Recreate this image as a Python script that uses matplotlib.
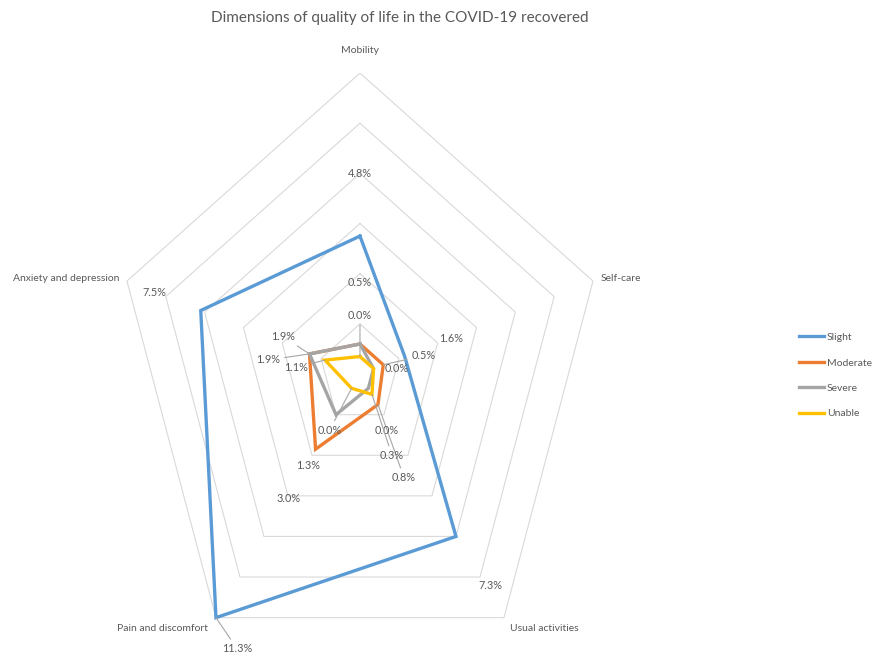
import numpy as np
import matplotlib
matplotlib.use("Agg")
import matplotlib.pyplot as plt
from matplotlib.lines import Line2D

plt.rcParams['font.family'] = ['Lato', 'DejaVu Sans']

title = "Dimensions of quality of life in the COVID-19 recovered"
categories = ["Mobility", "Self-care", "Usual activities", "Pain and discomfort", "Anxiety and depression"]
series_names = ["Slight", "Moderate", "Severe", "Unable"]
slight = [4.8, 1.6, 7.3, 11.3, 7.5]
moderate = [0.5, 0.5, 0.8, 3.0, 1.9]
severe = [0.5, 0.0, 0.0, 1.3, 1.9]
unable = [0.0, 0.0, 0.3, 0.0, 1.1]
values = [slight, moderate, severe, unable]

# value axis as set in the original sheet
vmin, vmax, step = -0.7, 11.3, 2.0

colors = ["#5B9BD5", "#ED7D31", "#A5A5A5", "#FFC000"]
ring_color = "#D9D9D9"
text_color = "#595959"

# label offsets in pixels (dx, dy, leader line); None = hidden under another label
label_pos = [
    [(0, 63, False), (47, 18, False), (34, -49, False), (21, -31, True), (-46, 18, False)],
    [(0, 61, False), (40, 9, True), (26, -73, True), (-27, -49, False), (-26, 17, True)],
    [None, (23, 0, False), (18, -42, False), (-28, -51, False), (-41, -6, True)],
    [(0, 41, True), None, (20, -61, True), (-22, -42, True), (-29, -7, True)],
]
cat_pos = [(0, 23, "center"), (8, 3, "left"), (6, -11, "left"), (-8, -11, "right"), (-8, 3, "right")]

n = len(categories)
theta = np.arange(n) * 2 * np.pi / n


def to_xy(vals):
    r = (np.asarray(vals, dtype=float) - vmin) / (vmax - vmin)
    return r * np.sin(theta), r * np.cos(theta)


fig = plt.figure(figsize=(8.75, 6.59), dpi=100)
ax = fig.add_axes([0.0754, 0.0212, 0.672, 0.868])
ax.set_xlim(-1.2, 1.2)
ax.set_ylim(-0.9, 1.0)
ax.axis("off")

# gridline rings
for lev in np.arange(vmin + step, vmax + 1e-9, step):
    rx, ry = to_xy([lev] * n)
    ax.plot(np.append(rx, rx[0]), np.append(ry, ry[0]), color=ring_color, lw=0.8, zorder=1)

# series
for name, vals, c in zip(series_names, values, colors):
    x, y = to_xy(vals)
    ax.plot(np.append(x, x[0]), np.append(y, y[0]), color=c, lw=2.4, zorder=3,
            solid_joinstyle="miter", label=name)

# data labels
for vals, offs in zip(values, label_pos):
    x, y = to_xy(vals)
    for i, o in enumerate(offs):
        if o is None:
            continue
        dx, dy, lead = o
        ap = None
        if lead:
            ap = dict(arrowstyle="-", color="#A6A6A6", lw=0.8, shrinkA=1, shrinkB=0)
        ax.annotate("%.1f%%" % vals[i], (x[i], y[i]), xytext=(dx, dy),
                    textcoords="offset pixels", ha="center", va="center",
                    fontsize=7.8, color=text_color, arrowprops=ap, zorder=5)

# category labels at the outer ring
ox, oy = to_xy([vmax] * n)
for i, cat in enumerate(categories):
    dx, dy, ha = cat_pos[i]
    ax.annotate(cat, (ox[i], oy[i]), xytext=(dx, dy), textcoords="offset pixels",
                ha=ha, va="center", fontsize=7.5, color=text_color)

fig.text(0.457, 0.972, title, ha="center", va="center", fontsize=11, color=text_color)

handles = [Line2D([], [], color=c, lw=2.4) for c in colors]
fig.legend(handles, series_names, loc="center left", bbox_to_anchor=(0.902, 0.43),
           frameon=False, fontsize=7.5, handlelength=2.4, handletextpad=0.3,
           labelspacing=1.55, labelcolor=text_color)

fig.savefig("out.png", dpi=100, facecolor="white")
